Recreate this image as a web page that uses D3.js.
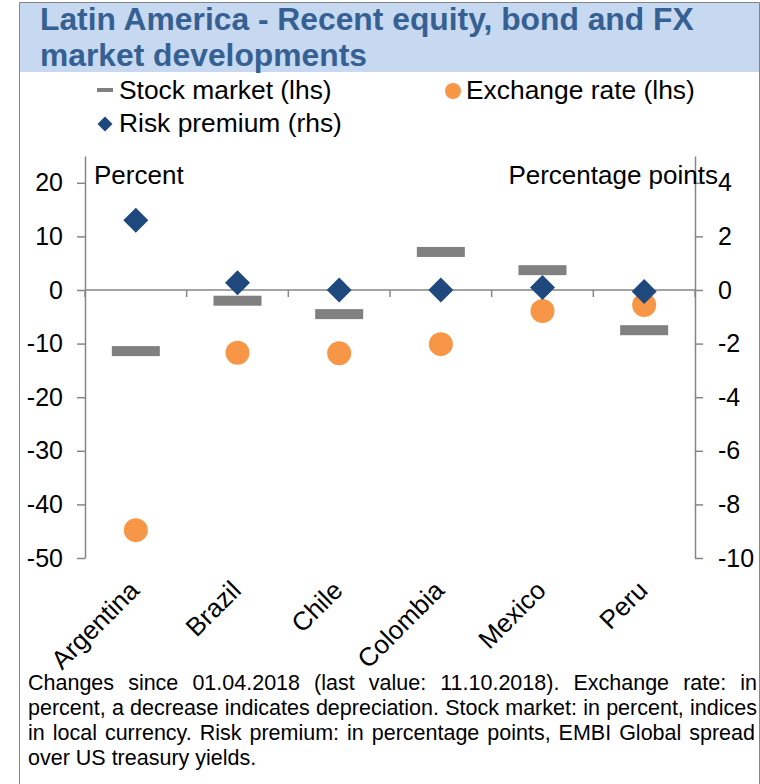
<!DOCTYPE html>
<html>
<head>
<meta charset="utf-8">
<script src="https://cdn.jsdelivr.net/npm/d3@7"></script>
<style>
  body { margin: 0; background: #fff; }
  svg { display: block; font-family: "Liberation Sans", Arial, sans-serif; }
</style>
</head>
<body>
<div id="chart"></div>
<script>
// values
const countries = ["Argentina", "Brazil", "Chile", "Colombia", "Mexico", "Peru"];
const stockMarket = [-11.4, -2.0, -4.5, 7.1, 3.7, -7.5];      // percent, lhs
const exchangeRate = [-44.8, -11.7, -11.8, -10.1, -3.9, -2.8]; // percent, lhs
const riskPremium = [2.6, 0.27, 0.0, 0.0, 0.09, -0.06];        // pp, rhs
const leftTicks = [-50, -40, -30, -20, -10, 0, 10, 20];
const rightTicks = [-10, -8, -6, -4, -2, 0, 2, 4];
const footnote = [
  "Changes since 01.04.2018 (last value: 11.10.2018). Exchange rate: in",
  "percent, a decrease indicates depreciation. Stock market: in percent, indices",
  "in local currency.  Risk premium: in percentage points, EMBI Global spread",
  "over US treasury yields."
];

const W = 760, H = 784;
const grey = "#868686", stockCol = "#808080", fxCol = "#f79646", riskCol = "#1f497d";

let svg = d3.select("#chart").append("svg")
  .attr("width", W)
  .attr("height", H);

svg.append("rect").attr("width", W).attr("height", H).attr("fill", "#fff");

// frame and title band
svg.append("rect")
  .attr("x", 20).attr("y", 3).attr("width", 739).attr("height", 69)
  .attr("fill", "#c6d9f1");
svg.append("path")
  .attr("d", "M19.5,790V2.5H759.5V790")
  .attr("fill", "none").attr("stroke", grey).attr("stroke-width", 1);

svg.append("text").attr("x", 40).attr("y", 30)
  .attr("font-size", 31.8).attr("font-weight", "bold").attr("fill", "#376092")
  .text("Latin America - Recent equity, bond and FX");
svg.append("text").attr("x", 40).attr("y", 66)
  .attr("font-size", 31.8).attr("font-weight", "bold").attr("fill", "#376092")
  .text("market developments");

// legend
let legend = svg.append("g").attr("font-size", 26.4).attr("fill", "#000");
legend.append("rect").attr("x", 97).attr("y", 88).attr("width", 16).attr("height", 4).attr("fill", stockCol);
legend.append("text").attr("x", 119).attr("y", 99).text("Stock market (lhs)");
legend.append("circle").attr("cx", 453).attr("cy", 91).attr("r", 8).attr("fill", fxCol);
legend.append("text").attr("x", 466).attr("y", 99).text("Exchange rate (lhs)");
legend.append("path")
  .attr("d", d3.symbol(d3.symbolSquare, 112)())
  .attr("transform", "translate(105,124) rotate(45)")
  .attr("fill", riskCol);
legend.append("text").attr("x", 119).attr("y", 132).text("Risk premium (rhs)");

// scales
let x = d3.scaleBand().domain(countries).range([85, 695]);
let yL = d3.scaleLinear().domain([-50, 25]).range([558, 156]);
let yR = d3.scaleLinear().domain([-10, 5]).range([558, 156]);

// plain hyphen minus like the original
let fmt = d => String(d);

// left axis
let axL = svg.append("g")
  .attr("transform", "translate(85,0)")
  .call(d3.axisLeft(yL).tickValues(leftTicks).tickFormat(fmt).tickSize(8).tickPadding(14).tickSizeOuter(0));
// right axis
let axR = svg.append("g")
  .attr("transform", "translate(695,0)")
  .call(d3.axisRight(yR).tickValues(rightTicks).tickFormat(fmt).tickSize(8).tickPadding(15).tickSizeOuter(0));

[axL, axR].forEach(ax => {
  ax.select(".domain").attr("stroke", grey).attr("stroke-width", 1.5);
  ax.selectAll(".tick line").attr("stroke", grey).attr("stroke-width", 1.5);
  ax.selectAll(".tick text").attr("font-size", 25).attr("fill", "#000")
    .attr("font-family", "Liberation Sans, Arial, sans-serif");
});
axR.selectAll(".tick text").attr("x", 23);

// category axis at zero
let zero = yL(0);
svg.append("line")
  .attr("x1", 85).attr("x2", 695).attr("y1", zero).attr("y2", zero)
  .attr("stroke", grey).attr("stroke-width", 1.5);
let bounds = countries.map(c => x(c)).concat([x.range()[1]]);
svg.selectAll(".cat-tick").data(bounds).enter().append("line")
  .attr("class", "cat-tick")
  .attr("x1", d => d).attr("x2", d => d)
  .attr("y1", zero).attr("y2", zero + 7)
  .attr("stroke", grey).attr("stroke-width", 1.5);

svg.selectAll(".cat-label").data(countries).enter().append("text")
  .attr("class", "cat-label")
  .attr("transform", d => "translate(" + (x(d) + x.bandwidth() / 2 + 5) + ",592) rotate(-45)")
  .attr("text-anchor", "end")
  .attr("font-size", 26)
  .text(d => d);

// axis titles
svg.append("text").attr("x", 94).attr("y", 184).attr("font-size", 26).text("Percent");
svg.append("text").attr("x", 718).attr("y", 184).attr("font-size", 26)
  .attr("text-anchor", "end").text("Percentage points");

// marks
let cx = d => x(d) + x.bandwidth() / 2;

svg.selectAll(".stock").data(countries).enter().append("rect")
  .attr("class", "stock")
  .attr("x", d => cx(d) - 24)
  .attr("y", (d, i) => yL(stockMarket[i]) - 5)
  .attr("width", 48).attr("height", 10)
  .attr("fill", stockCol);

svg.selectAll(".fx").data(countries).enter().append("circle")
  .attr("class", "fx")
  .attr("cx", cx)
  .attr("cy", (d, i) => yL(exchangeRate[i]))
  .attr("r", 12)
  .attr("fill", fxCol);

svg.selectAll(".risk").data(countries).enter().append("path")
  .attr("class", "risk")
  .attr("d", d3.symbol(d3.symbolSquare, 312)())
  .attr("transform", (d, i) => "translate(" + cx(d) + "," + yR(riskPremium[i]) + ") rotate(45)")
  .attr("fill", riskCol);

// footnote, justified like the original
let fn = svg.append("g").attr("font-size", 21.5).style("white-space", "pre");
footnote.forEach((line, i) => {
  let t = fn.append("text").attr("x", 28).attr("y", 690 + i * 25).text(line);
  if (i < footnote.length - 1) {
    let natural = t.node().getComputedTextLength();
    let gaps = line.split(" ").length - 1;
    t.attr("word-spacing", (757 - 28 - natural) / gaps);
  }
});
</script>
</body>
</html>
